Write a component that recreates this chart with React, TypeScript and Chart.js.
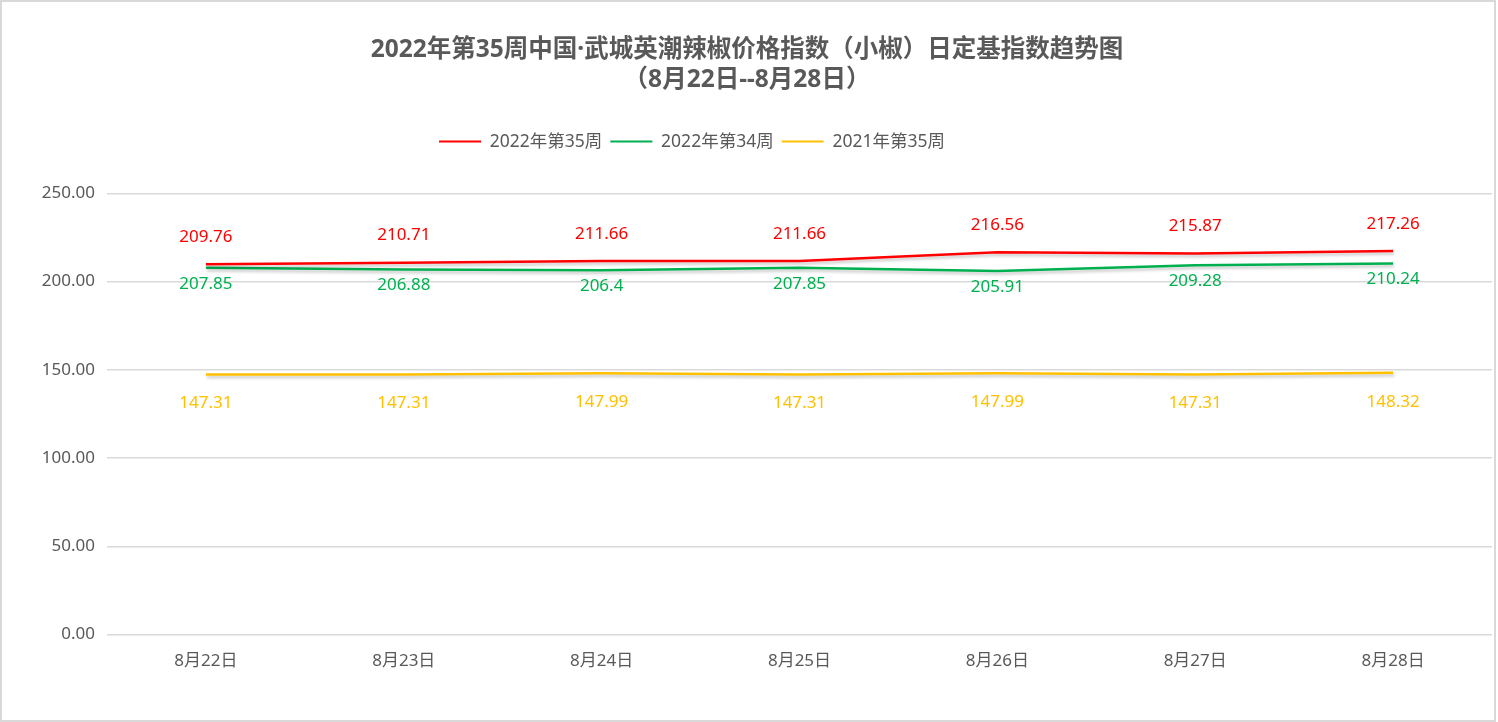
import React, { useEffect, useRef } from "react";
import { Chart, registerables } from "chart.js";

Chart.register(...registerables);

const categories = ["8月22日", "8月23日", "8月24日", "8月25日", "8月26日", "8月27日", "8月28日"];
const series2022w35 = [209.76, 210.71, 211.66, 211.66, 216.56, 215.87, 217.26];
const series2022w34 = [207.85, 206.88, 206.4, 207.85, 205.91, 209.28, 210.24];
const series2021w35 = [147.31, 147.31, 147.99, 147.31, 147.99, 147.31, 148.32];
const seriesNames = ["2022年第35周", "2022年第34周", "2021年第35周"];
const titleLines = ["2022年第35周中国·武城英潮辣椒价格指数（小椒）日定基指数趋势图", "（8月22日--8月28日）"];

const FONT = "'Noto Sans', 'Noto Sans CJK SC', sans-serif";
const GRAY = "#595959";

const shadowPlugin = {
  id: "lineShadow",
  beforeDatasetDraw(chart: any) {
    const ctx = chart.ctx;
    ctx.save();
    ctx.shadowColor = "rgba(0,0,0,0.22)";
    ctx.shadowBlur = 3;
    ctx.shadowOffsetX = 1;
    ctx.shadowOffsetY = 2.5;
  },
  afterDatasetDraw(chart: any) {
    chart.ctx.restore();
  },
};

const labelOffsets = [-27, 16, 29];

const dataLabelPlugin = {
  id: "dataLabels",
  afterDatasetsDraw(chart: any) {
    const ctx = chart.ctx;
    ctx.save();
    ctx.font = `17px ${FONT}`;
    ctx.textAlign = "center";
    ctx.textBaseline = "middle";
    chart.data.datasets.forEach((ds: any, i: number) => {
      const meta = chart.getDatasetMeta(i);
      ctx.fillStyle = ds.borderColor;
      meta.data.forEach((pt: any, j: number) => {
        ctx.fillText(String(ds.data[j]), pt.x, pt.y + labelOffsets[i]);
      });
    });
    ctx.restore();
  },
};

const legendSpacer = {
  id: "legendSpacer",
  afterInit(chart: any) {
    const legend = chart.legend;
    if (!legend) return;
    const orig = legend.fit;
    legend.fit = function () {
      orig.call(this);
      this.height += 33;
    };
  },
  afterLayout(chart: any) {
    const legend = chart.legend;
    if (!legend) return;
    legend.left -= 55;
    legend.right -= 55;
  },
};

export default function App() {
  const ref = useRef<HTMLCanvasElement | null>(null);
  useEffect(() => {
    document.body.style.margin = "0";
    const colors = ["#FF0000", "#00B050", "#FFC000"];
    const datas = [series2022w35, series2022w34, series2021w35];
    const chart = new Chart(ref.current!, {
      type: "line",
      data: {
        labels: categories,
        datasets: datas.map((d, i) => ({
          label: seriesNames[i],
          data: d,
          borderColor: colors[i],
          backgroundColor: colors[i],
          borderWidth: 2.5,
          pointRadius: 0,
          tension: 0,
        })),
      },
      options: {
        animation: false,
        responsive: false,
        maintainAspectRatio: false,
        layout: { padding: { left: 0, right: 2, top: 0, bottom: 41 } },
        plugins: {
          title: {
            display: true,
            text: titleLines,
            color: GRAY,
            font: { family: FONT, size: 24.5, weight: "bold", lineHeight: 1.22 },
            padding: { top: 33, bottom: 30 },
          },
          legend: {
            display: true,
            position: "top",
            labels: {
              color: GRAY,
              font: { family: FONT, size: 17.5 },
              boxWidth: 42,
              boxHeight: 2,
              padding: 8,
              generateLabels(c: any) {
                const items = Chart.defaults.plugins.legend.labels.generateLabels(c);
                items.forEach((it: any) => { it.lineWidth = 0; });
                return items;
              },
            },
          },
          tooltip: { enabled: false },
        },
        scales: {
          x: {
            offset: true,
            grid: { display: false },
            border: { display: false },
            ticks: { color: GRAY, font: { family: FONT, size: 17 }, padding: 8 },
          },
          y: {
            min: 0,
            max: 250,
            afterFit(scale: any) { scale.width = 105; },
            grid: { color: "#D9D9D9", lineWidth: 1.5, drawTicks: false },
            border: { display: false },
            ticks: {
              stepSize: 50,
              color: GRAY,
              font: { family: FONT, size: 17 },
              padding: 12,
              callback: (v: any) => Number(v).toFixed(2),
            },
          },
        },
      },
      plugins: [shadowPlugin, dataLabelPlugin, legendSpacer],
    } as any);
    return () => chart.destroy();
  }, []);
  return (
    <div style={{ width: 1496, height: 722, boxSizing: "border-box", border: "2px solid #D9D9D9", background: "#fff" }}>
      <canvas ref={ref} width={1492} height={718} style={{ display: "block", width: 1492, height: 718 }} />
    </div>
  );
}
